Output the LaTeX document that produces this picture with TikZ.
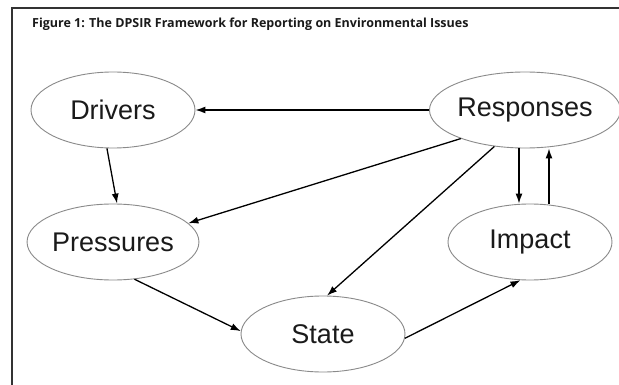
\documentclass[tikz,border=0pt]{standalone}
\usepackage{fontspec}
\setmainfont{Liberation Sans}
\newfontfamily\titlefont{Open Sans}
\usetikzlibrary{shapes.geometric,arrows.meta}
\definecolor{frame}{HTML}{333333}
\definecolor{ell}{HTML}{8A8A8A}
\definecolor{txt}{HTML}{1A1A1A}
\tikzset{
  ent/.style={ellipse, draw=ell, line width=0.9pt, minimum width=164pt, minimum height=76pt, inner sep=0pt, font=\fontsize{27}{30}\selectfont, text=txt},
  arr/.style={line width=1.3pt, draw=black, -{Latex[length=10pt,width=7pt]}},
}
\begin{document}
\begin{tikzpicture}[x=1pt,y=-1pt]
\useasboundingbox (0,0) rectangle (619,385);
\fill[white] (0,0) rectangle (619,385);
\draw[frame, line width=2pt] (12,386) -- (12,8) -- (620,8);
\node[anchor=base west, inner sep=0pt, font=\titlefont\bfseries\fontsize{12.5}{14}\selectfont, text=txt] (title) at (32,28) {Figure 1: The DPSIR Framework for Reporting on Environmental Issues};

\node[ent] (D) at (113,110) {Drivers};
\node[ent] (R) at (525,110) {Responses};
\node[ent] (P) at (113,242) {Pressures};
\node[ent] (I) at (530,242) {Impact};
\node[ent] (S) at (323,334) {State};

\coordinate (xa) at (519,0);
\coordinate (xb) at (549,0);

\draw[arr] (R.west) -- (D.east);
\draw[arr] (D.261) -- (P.84);
\draw[arr] (R.204) -- (P.14);
\draw[arr] (R.230) -- (S.84);
\draw[arr] (R.south -| xa) -- (I.north -| xa);
\draw[arr] (I.north -| xb) -- (R.south -| xb);
\draw[arr] (P.300) -- (S.178);
\draw[arr] (S.357) -- (I.256);
\end{tikzpicture}
\end{document}
